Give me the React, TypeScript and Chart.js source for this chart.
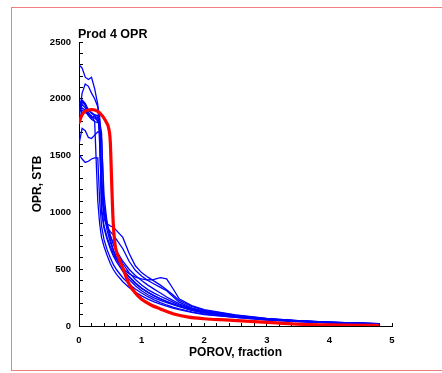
import React, { useEffect, useRef } from 'react';
import { Chart, registerables } from 'chart.js';
Chart.register(...registerables);

// Shared PORV grid (fraction) for the simulated runs
const porovGrid = [0, 0.05, 0.1, 0.15, 0.2, 0.25, 0.3, 0.33, 0.36, 0.4, 0.45, 0.5, 0.55, 0.6, 0.7, 0.8, 0.9, 1.0, 1.1, 1.2, 1.3, 1.4, 1.5, 1.6, 1.8, 2.0, 2.5, 3.0, 3.5, 4.0, 4.5, 4.8];

const run1 = [2300, 2270, 2190, 2170, 2190, 2090, 1950, 1600, 1150, 1000, 880, 790, 720, 660, 570, 500, 445, 400, 360, 325, 290, 255, 225, 195, 155, 128, 90, 63, 46, 33, 25, 20];
const run2 = [1850, 2050, 2130, 2110, 2050, 2000, 1930, 1850, 1300, 1050, 900, 800, 720, 650, 550, 470, 410, 360, 320, 290, 262, 236, 210, 185, 148, 122, 88, 61, 44, 31, 23, 18];
const run3 = [1950, 1990, 1960, 1900, 1870, 1850, 1830, 1820, 1000, 860, 760, 680, 615, 565, 480, 410, 355, 310, 275, 248, 225, 206, 188, 170, 138, 116, 85, 59, 43, 31, 23, 18];
const run4 = [1900, 1980, 1940, 1880, 1840, 1830, 1810, 1800, 1700, 1000, 900, 880, 870, 840, 780, 640, 530, 470, 430, 395, 360, 320, 275, 225, 172, 138, 95, 65, 47, 34, 25, 20];
const run5 = [1880, 1920, 1900, 1850, 1820, 1800, 1790, 1780, 1200, 950, 870, 830, 800, 760, 680, 570, 490, 440, 400, 370, 340, 310, 260, 210, 160, 128, 90, 63, 45, 32, 24, 19];
const run6 = [1870, 1950, 1920, 1870, 1830, 1850, 1800, 1780, 1300, 1000, 840, 740, 660, 600, 510, 460, 430, 415, 405, 410, 425, 415, 330, 240, 180, 145, 98, 66, 47, 34, 25, 20];
const run7 = [1600, 1740, 1720, 1660, 1650, 1680, 1710, 1700, 1650, 1150, 900, 760, 670, 600, 500, 430, 375, 330, 295, 265, 238, 214, 192, 172, 140, 116, 84, 59, 42, 30, 22, 17];
const run8 = [1510, 1470, 1440, 1450, 1470, 1480, 1480, 1100, 880, 760, 670, 600, 540, 495, 425, 370, 325, 290, 258, 230, 206, 185, 166, 150, 124, 104, 77, 54, 39, 28, 20, 16];
const run9 = [1800, 1900, 1880, 1860, 1850, 1800, 1100, 900, 780, 700, 620, 550, 495, 455, 390, 340, 298, 265, 237, 212, 192, 174, 158, 144, 120, 101, 76, 53, 38, 27, 20, 15];
const run10 = [1850, 1970, 1950, 1900, 1880, 1860, 1850, 1700, 1050, 880, 780, 700, 635, 585, 500, 435, 380, 335, 298, 268, 242, 218, 196, 176, 142, 118, 85, 59, 43, 30, 22, 17];

// Observed / reference curve (red)
const histX = [0, 0.05, 0.1, 0.2, 0.3, 0.38, 0.44, 0.47, 0.5, 0.52, 0.54, 0.57, 0.62, 0.7, 0.8, 0.9, 1.0, 1.15, 1.3, 1.5, 1.75, 2.0, 2.4, 2.8, 3.2, 3.7, 4.2, 4.77];
const histY = [1790, 1860, 1890, 1905, 1890, 1845, 1790, 1750, 1620, 1300, 980, 740, 620, 510, 370, 290, 235, 185, 150, 108, 78, 64, 52, 38, 26, 12, 9, 6];

const titleText = 'Prod 4 OPR';
const xTitle = 'POROV, fraction';
const yTitle = 'OPR, STB';

const FONT = '"Liberation Sans", Arial, Helvetica, sans-serif';

export default function App() {
  const ref = useRef<HTMLCanvasElement | null>(null);
  useEffect(() => {
    if (!ref.current) return;
    const runs = [run1, run2, run3, run4, run5, run6, run7, run8, run9, run10];
    const datasets: any[] = [
      {
        label: 'History',
        data: histX.map((x, i) => ({ x, y: histY[i] })),
        borderColor: '#ff0000',
        borderWidth: 3.2,
        showLine: true,
        pointRadius: 0,
        cubicInterpolationMode: 'monotone',
        borderCapStyle: 'round',
        borderJoinStyle: 'round',
      },
      ...runs.map((r, k) => ({
        label: 'Run ' + (k + 1),
        data: porovGrid.map((x, i) => ({ x, y: r[i] })),
        borderColor: '#0000ff',
        borderWidth: 1.3,
        showLine: true,
        pointRadius: 0,
        tension: 0,
      })),
    ];
    const titlePlugin = {
      id: 'plotTitle',
      afterDraw(chart: any) {
        const ctx = chart.ctx;
        ctx.save();
        ctx.fillStyle = '#000';
        ctx.font = 'bold 12.5px ' + FONT;
        ctx.textAlign = 'left';
        ctx.textBaseline = 'alphabetic';
        ctx.fillText(titleText, chart.chartArea.left - 1, 38.3);
        ctx.restore();
      },
    };
    const chart = new Chart(ref.current, {
      type: 'scatter',
      data: { datasets },
      plugins: [titlePlugin],
      options: {
        animation: false,
        responsive: true,
        maintainAspectRatio: false,
        layout: { padding: { top: 42, right: 50, bottom: 0, left: 0 } },
        plugins: { legend: { display: false }, tooltip: { enabled: false } },
        elements: { line: { fill: false } },
        scales: {
          x: {
            type: 'linear',
            min: 0,
            max: 5,
            afterFit: (s: any) => { s.height = 47; },
            border: { display: true, color: '#000', width: 1 },
            grid: { drawOnChartArea: false, drawTicks: true, tickLength: -3, tickColor: '#000', tickWidth: 1 },
            ticks: {
              stepSize: 0.2,
              autoSkip: false,
              maxRotation: 0,
              padding: 12,
              color: '#000',
              font: { family: FONT, size: 9.5, weight: 'bold' },
              callback: (v: any) => {
                const n = Number(v);
                return Math.abs(n - Math.round(n)) < 1e-6 ? String(Math.round(n)) : '';
              },
            },
            title: {
              display: true,
              text: xTitle,
              color: '#000',
              font: { family: FONT, size: 12, weight: 'bold' },
              padding: { top: 0, bottom: 13 },
            },
          },
          y: {
            type: 'linear',
            min: 0,
            max: 2500,
            afterFit: (s: any) => { s.width = 79; },
            border: { display: true, color: '#000', width: 1 },
            grid: { drawOnChartArea: false, drawTicks: true, tickLength: -4, tickColor: '#000', tickWidth: 1 },
            ticks: {
              stepSize: 100,
              autoSkip: false,
              padding: 12,
              color: '#000',
              font: { family: FONT, size: 9.5, weight: 'bold' },
              callback: (v: any) => {
                const n = Math.round(Number(v));
                return n % 500 === 0 ? String(n) : '';
              },
            },
            title: {
              display: true,
              text: yTitle,
              color: '#000',
              font: { family: FONT, size: 12, weight: 'bold' },
              padding: { top: 30, bottom: 0 },
            },
          },
        },
      },
    });
    return () => chart.destroy();
  }, []);

  return (
    <div style={{ position: 'fixed', left: 0, top: 0, width: 442, height: 373, background: '#fff', overflow: 'hidden' }}>
      <div
        style={{
          position: 'absolute',
          left: 11,
          top: 7,
          width: 520,
          height: 364,
          boxSizing: 'border-box',
          borderTop: '1px solid #ef8080',
          borderLeft: '1px solid #ef8080',
          borderBottom: '1px solid #ef8080',
        }}
      />
      <div style={{ position: 'absolute', left: 0, top: 0, width: 442, height: 373 }}>
        <canvas ref={ref} />
      </div>
    </div>
  );
}
